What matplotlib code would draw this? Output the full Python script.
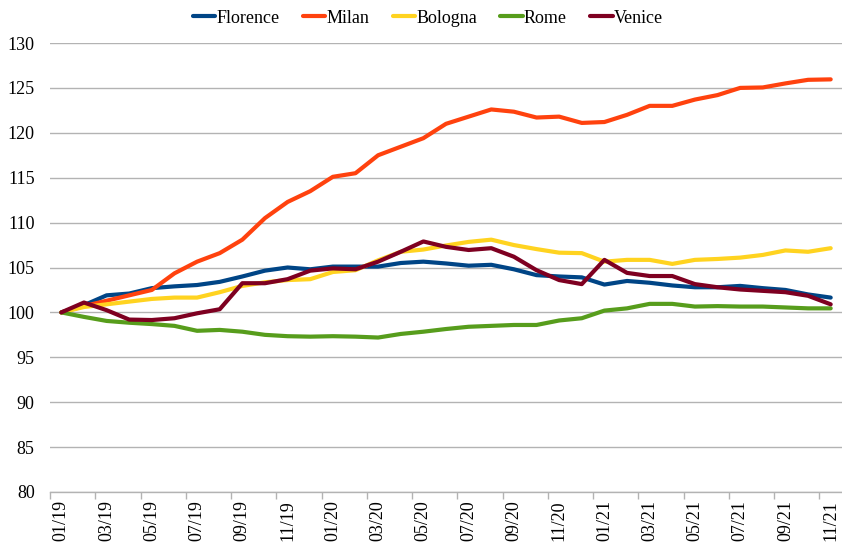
import matplotlib
matplotlib.use("Agg")
import matplotlib.pyplot as plt
import numpy as np

months = ["01/19", "02/19", "03/19", "04/19", "05/19", "06/19", "07/19", "08/19", "09/19", "10/19",
          "11/19", "12/19", "01/20", "02/20", "03/20", "04/20", "05/20", "06/20", "07/20", "08/20",
          "09/20", "10/20", "11/20", "12/20", "01/21", "02/21", "03/21", "04/21", "05/21", "06/21",
          "07/21", "08/21", "09/21", "10/21", "11/21"]

florence = [100.0, 100.8, 101.9, 102.1, 102.7, 102.9, 103.05, 103.4, 104.0, 104.65,
            105.0, 104.8, 105.1, 105.1, 105.1, 105.5, 105.65, 105.45, 105.2, 105.3,
            104.8, 104.15, 104.0, 103.9, 103.1, 103.5, 103.3, 103.0, 102.8, 102.8,
            102.95, 102.7, 102.5, 102.0, 101.65]
milan = [100.0, 100.7, 101.3, 101.9, 102.5, 104.35, 105.65, 106.6, 108.1, 110.5,
         112.3, 113.5, 115.1, 115.5, 117.5, 118.45, 119.4, 121.0, 121.8, 122.6,
         122.35, 121.7, 121.8, 121.1, 121.2, 122.0, 123.0, 123.0, 123.7, 124.2,
         125.0, 125.05, 125.5, 125.9, 125.95]
bologna = [100.0, 100.6, 100.9, 101.2, 101.5, 101.65, 101.65, 102.25, 102.95, 103.35,
           103.6, 103.7, 104.5, 104.7, 105.8, 106.75, 107.0, 107.45, 107.85, 108.1,
           107.5, 107.05, 106.65, 106.6, 105.65, 105.85, 105.85, 105.4, 105.85, 105.95,
           106.1, 106.4, 106.9, 106.75, 107.15]
rome = [100.0, 99.5, 99.05, 98.85, 98.7, 98.5, 97.95, 98.05, 97.85, 97.5,
        97.35, 97.3, 97.35, 97.3, 97.2, 97.6, 97.85, 98.15, 98.4, 98.5,
        98.6, 98.6, 99.1, 99.35, 100.2, 100.45, 100.95, 100.95, 100.65, 100.7,
        100.65, 100.65, 100.55, 100.45, 100.45]
venice = [100.0, 101.1, 100.25, 99.2, 99.15, 99.35, 99.9, 100.35, 103.25, 103.25,
          103.7, 104.65, 104.9, 104.8, 105.65, 106.75, 107.9, 107.3, 106.95, 107.15,
          106.2, 104.7, 103.6, 103.15, 105.85, 104.4, 104.05, 104.05, 103.15, 102.8,
          102.55, 102.4, 102.25, 101.85, 100.9]

series_names = ["Florence", "Milan", "Bologna", "Rome", "Venice"]
series_values = [florence, milan, bologna, rome, venice]
colors = ["#004586", "#ff420e", "#ffd320", "#579d1c", "#7e0021"]

y_ticks = [80, 85, 90, 95, 100, 105, 110, 115, 120, 125, 130]

plt.rcParams['font.family'] = ['Liberation Serif', 'DejaVu Serif']

fig = plt.figure(figsize=(8.42, 5.5), dpi=100)
ax = fig.add_axes([50/842, 1-492/550, 1-50/842, (492-43)/550])

x = np.arange(len(months))
for name, vals, c in zip(series_names, series_values, colors):
    ax.plot(x, vals, color=c, lw=3, label=name, solid_capstyle='round', solid_joinstyle='round')

ax.set_xlim(-0.5, len(months) - 0.5)
ax.set_ylim(80, 130)
ax.set_yticks(y_ticks)
ax.set_yticklabels([str(v) for v in y_ticks], fontsize=13)
ax.tick_params(axis='y', length=0, pad=11)

ax.set_xticks(x[::2])
ax.set_xticklabels(months[::2], rotation=90, fontsize=13)
ax.set_xticks(np.arange(-0.5, len(months) - 1, 2), minor=True)
ax.tick_params(axis='x', which='major', length=0, pad=6)
ax.tick_params(axis='x', which='minor', length=5, color='#b3b3b3', width=1)

ax.grid(axis='y', color='#b3b3b3', lw=1)
ax.set_axisbelow(True)
for s in ['top', 'right', 'left']:
    ax.spines[s].set_visible(False)
ax.spines['bottom'].set_color('#b3b3b3')
ax.spines['bottom'].set_linewidth(1)

fig.legend(loc='upper center', bbox_to_anchor=(0.508, 1.012), ncol=5, frameon=False,
           fontsize=13, handlelength=1.25, handletextpad=0.05, columnspacing=1.3)

fig.savefig("out.png", dpi=100)
